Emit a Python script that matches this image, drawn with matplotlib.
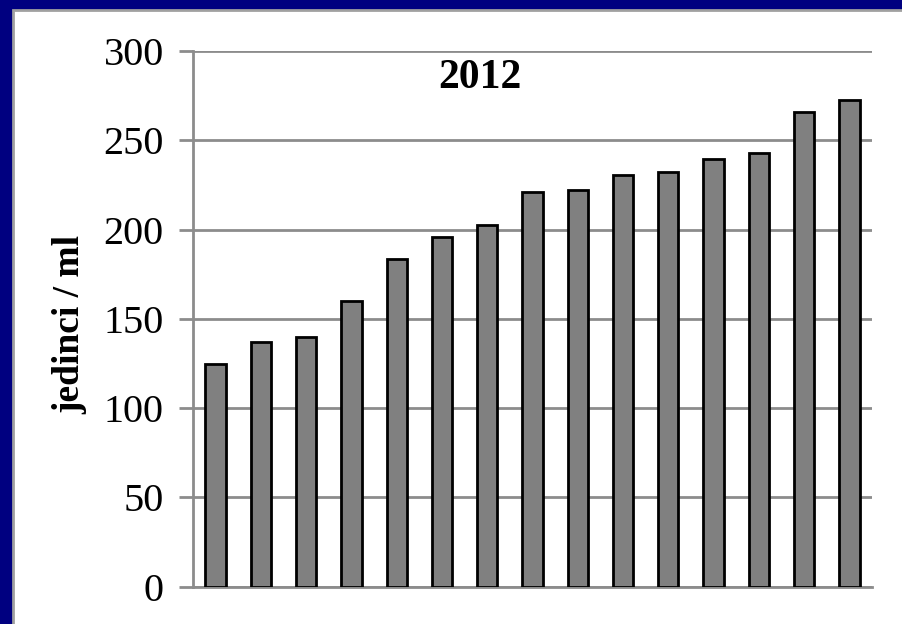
import matplotlib
matplotlib.use('Agg')
import matplotlib.pyplot as plt
from matplotlib.patches import Rectangle

# individual counts per ml, 2012, sorted ascending
values = [124.5, 137, 139.8, 160.1, 183.5, 195.8, 202.3, 220.8, 222.3,
          230.5, 232, 239.5, 242.8, 266, 272.6]
yticks = [0, 50, 100, 150, 200, 250, 300]
title = '2012'
ylabel = 'jedinci / ml'

navy = '#000080'
grid_grey = '#8c8c8c'

fig = plt.figure(figsize=(9.02, 6.24), dpi=100)
fig.patch.set_facecolor(navy)

# white panel with grey frame, in its own background axes
bg = fig.add_axes([0, 0, 1, 1], zorder=-10)
bg.set_xlim(0, 902)
bg.set_ylim(624, 0)
bg.axis('off')
bg.add_patch(Rectangle((13, 10), 902, 624, facecolor='white',
                       edgecolor='#a0a0a0', linewidth=2))

ax = fig.add_axes([193 / 902, 1 - 586.7 / 624, (872 - 193) / 902, (586.7 - 51) / 624])
ax.set_facecolor('none')

x = range(len(values))
ax.bar(x, values, width=0.45, color='#808080', edgecolor='black', linewidth=2, zorder=3)

ax.set_xlim(-0.5, len(values) - 0.5)
ax.set_ylim(0, 300)
ax.set_yticks(yticks)
ax.set_yticklabels([str(t) for t in yticks], fontsize=29, family='Liberation Serif')
ax.set_xticks([])
ax.yaxis.grid(True, color=grid_grey, linewidth=2)
ax.set_axisbelow(True)

for s in ['top', 'right']:
    ax.spines[s].set_visible(False)
for s in ['left', 'bottom']:
    ax.spines[s].set_color(grid_grey)
    ax.spines[s].set_linewidth(2)
ax.tick_params(axis='y', length=10, width=2, color=grid_grey, pad=11)

fig.text(70 / 902, 1 - 324 / 624, ylabel, rotation=90, ha='center', va='center',
         fontsize=27, fontweight='bold', family='Liberation Serif')
ax.text(0.4225, 0.931, title, transform=ax.transAxes, ha='center', va='baseline',
        fontsize=30, fontweight='bold', family='Liberation Serif')

fig.savefig('out.png', dpi=100, facecolor=fig.get_facecolor())
